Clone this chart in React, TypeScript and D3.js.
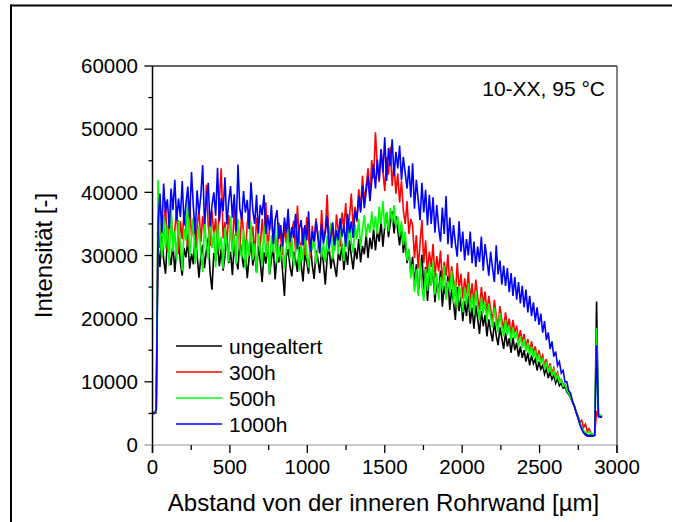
import React from "react";
import * as d3 from "d3";

// distance grid in µm (sampling step of the measurement profile)
const positionsUm = d3.range(0, 2905, 12);

// intensities in thousands
const ungealtert = [
  5.0, 5.0, 5.1, 31.5, 28.2, 33.0, 29.4, 27.1, 32.6, 30.0,
  28.5, 31.9, 27.4, 30.8, 33.2, 28.9, 26.8, 31.2, 29.7, 32.4,
  27.9, 30.3, 28.6, 33.5, 30.1, 26.5, 29.8, 31.7, 28.0, 30.9,
  32.8, 27.2, 24.6, 30.4, 29.1, 32.0, 28.3, 31.1, 27.6, 29.9,
  33.1, 28.8, 30.6, 26.9, 31.8, 29.2, 27.8, 32.5, 30.2, 28.1,
  31.0, 26.4, 29.6, 32.2, 28.4, 30.7, 27.3, 31.5, 29.0, 25.8,
  30.5, 28.7, 32.1, 27.0, 29.4, 31.3, 26.2, 30.0, 28.9, 31.8,
  27.5, 23.6, 29.8, 31.0, 28.2, 26.7, 30.6, 29.3, 27.4, 31.4,
  28.6, 25.9, 30.2, 29.0, 27.1, 31.9, 28.4, 26.3, 30.8, 29.5,
  27.2, 30.9, 28.8, 25.4, 29.6, 31.6, 27.9, 30.1, 28.3, 26.6,
  30.4, 29.2, 31.8, 27.7, 30.6, 28.5, 32.4, 29.9, 27.8, 31.2,
  29.4, 32.6, 28.9, 31.5, 30.2, 33.4, 29.6, 32.8, 31.0, 34.2,
  30.8, 33.9, 32.2, 35.5, 31.4, 34.6, 36.8, 32.9, 35.2, 37.0,
  33.5, 36.2, 34.0, 31.6, 34.8, 30.4, 32.6, 28.8, 30.9, 27.2,
  29.8, 25.2, 28.6, 23.9, 27.4, 30.1, 24.6, 28.2, 22.8, 26.9,
  25.3, 28.4, 22.6, 26.1, 24.0, 27.6, 21.9, 25.2, 23.4, 26.8,
  21.4, 24.7, 22.6, 19.8, 25.0, 21.2, 23.4, 19.6, 22.8, 20.4,
  23.6, 19.2, 21.8, 18.4, 22.1, 20.0, 17.6, 21.2, 18.8, 20.6,
  17.2, 19.9, 18.0, 16.4, 19.5, 17.3, 15.8, 18.6, 16.9, 15.2,
  17.8, 15.6, 16.9, 14.6, 17.0, 15.0, 16.2, 14.0, 15.6, 13.8,
  15.0, 13.2, 14.6, 12.6, 14.2, 12.9, 13.6, 11.8, 13.2, 12.0,
  12.6, 11.2, 12.1, 10.6, 11.6, 10.4, 11.0, 9.8, 10.5, 9.4,
  9.8, 9.0, 9.2, 8.4, 8.0, 7.5, 6.8, 6.2, 5.2, 4.3,
  3.4, 2.7, 2.1, 1.8, 1.6, 1.5, 1.6, 1.5, 1.6, 22.7,
  4.6, 4.5, 4.4,
];

const h300 = [
  5.0, 5.0, 5.2, 37.0, 31.2, 35.8, 33.4, 38.6, 30.6, 34.9,
  36.7, 31.8, 33.9, 37.8, 30.2, 35.4, 32.6, 36.9, 34.1, 31.3,
  38.2, 33.0, 35.7, 30.8, 34.5, 37.4, 32.1, 36.2, 33.6, 41.2,
  34.8, 31.5, 37.1, 33.2, 35.9, 30.4, 38.9, 43.8, 32.7, 35.3,
  31.9, 36.4, 34.0, 30.9, 37.6, 33.1, 35.6, 31.0, 36.8, 33.7,
  30.5, 35.1, 37.3, 32.4, 34.6, 29.8, 36.0, 33.0, 31.4, 35.8,
  32.2, 38.4, 30.7, 34.3, 36.6, 31.6, 33.5, 29.5, 35.2, 32.8,
  30.1, 34.9, 31.9, 36.3, 29.9, 33.8, 35.5, 30.6, 37.9, 32.3,
  31.2, 34.4, 30.0, 36.1, 32.9, 29.7, 34.7, 31.5, 35.9, 33.3,
  30.3, 37.2, 32.5, 34.1, 39.6, 31.8, 35.0, 33.6, 30.8, 36.5,
  33.9, 31.4, 36.8, 34.4, 38.3, 32.7, 36.0, 39.8, 34.6, 37.7,
  35.3, 40.5, 37.2, 42.6, 38.4, 41.0, 43.8, 39.2, 45.1, 42.2,
  49.5, 44.0, 41.6, 46.8, 43.4, 40.2, 45.6, 42.8, 47.2, 41.0,
  44.6, 39.8, 43.0, 38.4, 41.8, 37.2, 35.0, 38.6, 33.4, 35.8,
  34.8, 29.6, 33.2, 28.0, 31.9, 35.6, 28.8, 32.4, 27.2, 30.6,
  28.2, 31.8, 26.4, 29.9, 27.5, 30.8, 25.6, 29.0, 26.8, 30.2,
  25.0, 28.3, 26.2, 23.6, 28.8, 24.7, 27.1, 23.2, 26.4, 24.0,
  27.4, 22.8, 25.6, 22.0, 26.2, 23.4, 21.4, 25.0, 22.2, 24.3,
  20.8, 23.6, 21.4, 19.6, 23.0, 20.4, 18.8, 22.0, 19.8, 18.4,
  21.0, 18.6, 20.0, 17.4, 19.8, 17.8, 18.9, 16.6, 18.2, 16.2,
  17.6, 15.4, 16.8, 14.8, 16.4, 14.6, 15.6, 13.6, 15.0, 13.4,
  14.2, 12.6, 13.6, 11.8, 12.9, 11.4, 12.2, 10.8, 11.5, 10.2,
  10.4, 9.6, 9.6, 8.8, 8.4, 7.6, 7.0, 6.1, 5.4, 4.6,
  3.6, 3.9, 2.8, 3.3, 2.2, 2.6, 1.8, 1.7, 1.7, 5.2,
  4.8, 4.7, 4.6,
];

const h500 = [
  5.0, 5.1, 5.3, 42.0, 33.5, 29.6, 36.4, 31.0, 34.8, 28.4,
  38.2, 30.6, 33.9, 29.2, 35.6, 31.8, 27.6, 34.2, 32.4, 39.8,
  29.9, 33.1, 36.0, 28.7, 31.5, 34.7, 30.2, 27.4, 35.3, 32.0,
  29.4, 36.8, 31.2, 33.8, 28.1, 35.0, 30.7, 32.9, 27.9, 34.4,
  31.6, 29.0, 36.2, 30.3, 33.4, 28.6, 35.8, 31.1, 29.6, 34.1,
  27.7, 32.6, 30.0, 35.4, 29.3, 31.9, 27.2, 33.7, 30.8, 28.4,
  34.9, 29.8, 32.3, 27.0, 33.2, 30.5, 35.7, 28.8, 31.4, 29.1,
  33.6, 27.9, 31.0, 34.3, 29.5, 32.8, 28.3, 30.4, 33.9, 27.5,
  31.7, 29.2, 34.5, 30.1, 28.0, 32.5, 30.9, 33.4, 28.7, 31.3,
  34.0, 29.7, 32.0, 28.9, 33.1, 30.6, 35.2, 29.4, 31.8, 33.5,
  30.2, 34.6, 31.5, 29.1, 33.7, 31.0, 35.5, 32.2, 30.4, 34.9,
  32.6, 35.8, 31.3, 34.2, 36.4, 32.9, 35.1, 33.6, 37.0, 34.0,
  36.2, 33.4, 37.8, 35.0, 38.6, 34.3, 36.9, 33.8, 37.5, 35.2,
  38.0, 34.6, 36.2, 33.0, 35.4, 31.6, 33.8, 29.2, 31.0, 26.4,
  28.6, 24.2, 27.8, 23.6, 29.4, 25.0, 22.8, 27.9, 24.4, 28.8,
  25.2, 29.0, 23.8, 27.2, 22.9, 26.6, 24.6, 28.4, 23.0, 26.0,
  24.2, 27.6, 22.4, 25.8, 21.6, 25.2, 23.8, 21.0, 24.9, 22.2,
  25.6, 21.2, 23.8, 20.6, 24.4, 21.8, 19.8, 23.4, 20.8, 22.6,
  19.6, 22.4, 20.2, 18.6, 21.8, 19.4, 17.8, 20.9, 18.6, 17.2,
  19.8, 17.4, 18.9, 16.4, 18.6, 16.8, 17.9, 15.6, 17.2, 15.4,
  16.8, 14.8, 16.2, 14.2, 15.6, 13.8, 15.0, 13.0, 14.4, 12.8,
  13.8, 12.0, 13.2, 11.4, 12.6, 11.0, 11.9, 10.4, 11.2, 9.9,
  10.4, 9.3, 9.6, 8.6, 8.2, 7.6, 6.9, 6.3, 5.3, 4.4,
  3.5, 2.8, 2.3, 2.0, 1.9, 2.1, 1.8, 1.7, 1.6, 18.5,
  4.8, 4.7, 4.6,
];

const h1000 = [
  5.0, 5.1, 5.6, 35.2, 39.8, 33.6, 41.4, 36.8, 38.9, 34.3,
  40.6, 37.2, 42.0, 35.5, 39.0, 36.1, 41.8, 34.8, 38.2, 40.9,
  35.9, 43.2, 37.7, 33.4, 40.3, 36.6, 39.4, 44.3, 35.0, 38.7,
  41.5, 34.6, 37.9, 40.0, 36.3, 43.9, 35.4, 39.1, 37.0, 42.4,
  34.9, 38.5, 41.0, 36.0, 39.7, 33.8, 44.4, 37.4, 35.7, 40.2,
  36.8, 38.8, 34.2, 41.6, 37.1, 35.0, 39.6, 33.5, 38.0, 36.4,
  39.6, 33.4, 36.4, 34.0, 38.0, 31.8, 35.6, 37.2, 32.6, 34.8,
  31.4, 36.0, 33.6, 37.4, 32.2, 34.5, 32.8, 36.6, 31.0, 34.2,
  35.6, 31.6, 34.8, 32.4, 37.0, 30.6, 33.8, 32.2, 35.4, 33.0,
  30.4, 35.0, 31.9, 33.6, 36.3, 31.0, 33.2, 35.2, 31.6, 34.0,
  32.4, 35.9, 33.0, 34.8, 31.4, 36.6, 33.6, 35.4, 32.8, 37.2,
  35.6, 39.4, 36.8, 41.0, 37.5, 40.2, 42.6, 38.6, 41.8, 44.4,
  40.6, 45.2, 42.0, 46.8, 43.1, 48.7, 41.8, 47.0, 44.2, 48.4,
  42.6, 46.4, 43.8, 47.4, 41.9, 45.6, 43.0, 40.6, 44.2, 39.2,
  44.6, 37.4, 42.0, 38.8, 35.6, 41.5, 36.8, 40.4, 34.8, 39.6,
  35.0, 39.2, 33.6, 38.0, 34.4, 32.2, 37.6, 33.4, 39.4, 31.8,
  36.0, 31.2, 34.8, 32.0, 29.8, 35.4, 30.6, 33.8, 29.2, 32.6,
  30.0, 33.8, 28.8, 32.2, 28.2, 31.4, 29.0, 33.0, 27.6, 31.8,
  29.4, 26.8, 30.6, 28.0, 25.8, 31.6, 27.0, 29.2, 25.4, 28.4,
  25.2, 28.0, 24.2, 27.2, 23.6, 26.6, 23.0, 25.8, 22.4, 25.2,
  21.8, 24.6, 21.0, 23.6, 20.4, 22.6, 19.6, 21.8, 19.0, 20.8,
  17.8, 19.6, 16.6, 17.8, 15.2, 16.4, 14.0, 14.8, 12.6, 13.2,
  11.4, 11.8, 10.0, 10.0, 8.6, 8.2, 7.0, 6.2, 5.2, 4.3,
  3.3, 2.5, 1.9, 1.6, 1.4, 1.4, 1.4, 1.4, 1.5, 15.8,
  4.5, 4.4, 4.4,
];

const seriesNames = ["ungealtert", "300h", "500h", "1000h"];
const seriesValues = [ungealtert, h300, h500, h1000];
const seriesColors = ["#000000", "#ff0000", "#00ff00", "#0000ff"];

const xTicks = [0, 500, 1000, 1500, 2000, 2500, 3000];
const xMinorTicks = [250, 750, 1250, 1750, 2250, 2750];
const yTicks = [0, 10000, 20000, 30000, 40000, 50000, 60000];
const yMinorTicks = [5000, 15000, 25000, 35000, 45000, 55000];

const annotation = "10-XX, 95 °C";
const xTitle = "Abstand von der inneren Rohrwand [µm]";
const yTitle = "Intensität [-]";

const W = 681;
const H = 522;
const left = 152.5;
const right = 617;
const top = 66;
const bottom = 445;
const FONT = "'Liberation Sans', Arial, sans-serif";

export default function App() {
  const x = d3.scaleLinear().domain([0, 3000]).range([left, right]);
  const y = d3.scaleLinear().domain([0, 60000]).range([bottom, top]);
  const line = d3
    .line<number>()
    .x((_, i) => x(positionsUm[i]))
    .y((d) => y(d * 1000));

  return (
    <svg
      width={W}
      height={H}
      style={{ position: "absolute", left: 0, top: 0 }}
      fontFamily={FONT}
    >
      <rect x={0} y={0} width={W} height={H} fill="#fff" />
      {/* outer frame */}
      <line x1={10} x2={672} y1={5.5} y2={5.5} stroke="#000" strokeWidth={2} />
      <line x1={11} x2={11} y1={4.5} y2={H} stroke="#000" strokeWidth={2} />

      {/* data */}
      {seriesValues.map((vals, k) => (
        <path
          key={seriesNames[k]}
          d={line(vals) || ""}
          fill="none"
          stroke={seriesColors[k]}
          strokeWidth={1.6}
          strokeLinejoin="miter"
        />
      ))}

      {/* plot frame */}
      <line x1={left} x2={right} y1={top} y2={top} stroke="#333" strokeWidth={1.5} />
      <line x1={right} x2={right} y1={top} y2={453} stroke="#333" strokeWidth={1.2} />
      <line x1={left} x2={right} y1={bottom} y2={bottom} stroke="#999" strokeWidth={1.2} />
      <line x1={left} x2={left} y1={top} y2={453} stroke="#000" strokeWidth={1.5} />

      {/* y ticks */}
      {yTicks.map((t) => (
        <g key={"y" + t}>
          <line
            x1={left - 8}
            x2={left}
            y1={y(t)}
            y2={y(t)}
            stroke={t === 0 ? "#999" : "#000"}
            strokeWidth={1.3}
          />
          <text
            x={138}
            y={y(t)}
            dy="0.35em"
            textAnchor="end"
            fontSize={20.5}
            fill="#000"
          >
            {t}
          </text>
        </g>
      ))}
      {yMinorTicks.map((t) => (
        <line
          key={"ym" + t}
          x1={left - 4}
          x2={left}
          y1={y(t)}
          y2={y(t)}
          stroke="#000"
          strokeWidth={1.3}
        />
      ))}

      {/* x ticks */}
      {xTicks.map((t) => (
        <g key={"x" + t}>
          <line x1={x(t)} x2={x(t)} y1={bottom} y2={bottom + 8} stroke="#000" strokeWidth={1.3} />
          <text x={x(t)} y={474} textAnchor="middle" fontSize={20.5} fill="#000">
            {t}
          </text>
        </g>
      ))}
      {xMinorTicks.map((t) => (
        <line
          key={"xm" + t}
          x1={x(t)}
          x2={x(t)}
          y1={bottom}
          y2={bottom + 5}
          stroke="#000"
          strokeWidth={1.3}
        />
      ))}

      {/* titles */}
      <text x={383.5} y={511} textAnchor="middle" fontSize={24} fill="#000">
        {xTitle}
      </text>
      <text
        transform={`translate(52, ${(top + bottom) / 2}) rotate(-90)`}
        textAnchor="middle"
        fontSize={24}
        fill="#000"
      >
        {yTitle}
      </text>

      {/* annotation */}
      <text x={605} y={96} textAnchor="end" fontSize={21} fill="#000">
        {annotation}
      </text>

      {/* legend */}
      {seriesNames.map((name, k) => (
        <g key={"lg" + name} transform={`translate(0, ${346 + k * 26})`}>
          <line x1={176} x2={222} y1={0} y2={0} stroke={seriesColors[k]} strokeWidth={1.6} />
          <text x={229} y={7.5} fontSize={21} fill="#000">
            {name}
          </text>
        </g>
      ))}
    </svg>
  );
}
